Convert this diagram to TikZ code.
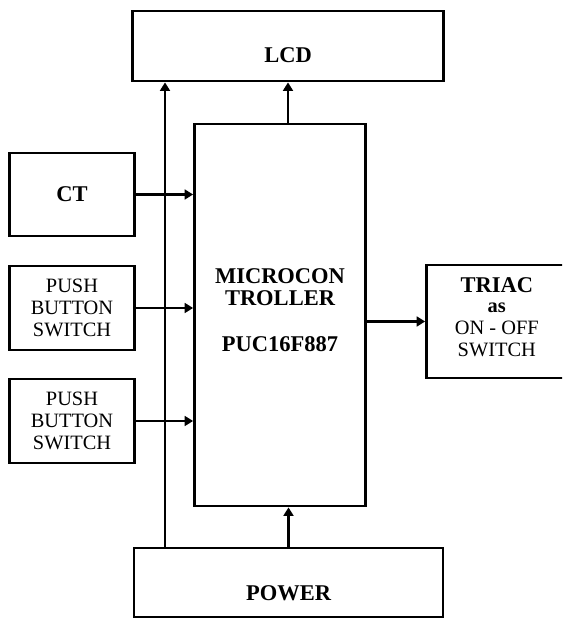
\documentclass[tikz,border=0pt]{standalone}
\usepackage{fontspec}
\setmainfont{Liberation Serif}
\usepackage{tikz}
\usetikzlibrary{arrows.meta,positioning}

\tikzset{
  blk/.style={draw,line width=2pt,inner sep=0pt,align=center},
  bigtxt/.style={font=\fontsize{16}{17}\selectfont\bfseries,align=center},
  smalltxt/.style={font=\fontsize{14.5}{15.4}\selectfont,align=center},
  wire/.style={line width=2pt,-{Triangle[length=6pt,width=7pt]}}
}

\begin{document}
\begin{tikzpicture}
\clip(0,0)rectangle(14.05,15.475);
% blocks
\node[blk,minimum width=7.775cm,minimum height=1.75cm](lcd)at(7.2,14.325){};
\node[bigtxt](lcdtxt)at([yshift=-0.24cm]lcd.center){LCD};
\node[blk,minimum width=4.275cm,minimum height=9.55cm](mcu)at(7.0,7.6){};
\node[bigtxt](mcutxt)at(7.0,7.72){MICROCON\\[-1pt]TROLLER\\[16pt]PUC16F887};
\node[blk,bigtxt,minimum width=3.125cm,minimum height=2.075cm](ct)at(1.8,10.6125){CT};
\node[blk,smalltxt,minimum width=3.125cm,minimum height=2.1cm](pbone)at(1.8,7.775){PUSH\\BUTTON\\SWITCH};
\node[blk,smalltxt,minimum width=3.125cm,minimum height=2.1cm](pbtwo)at(1.8,4.95){PUSH\\BUTTON\\SWITCH};
\node[blk,minimum width=3.5125cm,minimum height=2.825cm](triac)at(12.42,7.4375){};
\node[smalltxt](triactxt)at(12.42,7.55){{\fontsize{16}{17}\selectfont\bfseries TRIAC}\\[-1pt]{\bfseries as}\\ON - OFF\\SWITCH};
\node[blk,minimum width=7.725cm,minimum height=1.725cm](power)at(7.2125,0.9125){};
\node[bigtxt](powertxt)at([yshift=-0.26cm]power.center){POWER};
\coordinate(bus)at(4.125,0);
% connections
\draw[wire](ct.east)--(ct.east-|mcu.west);
\draw[wire](pbone.east)--(pbone.east-|mcu.west);
\draw[wire](pbtwo.east)--(pbtwo.east-|mcu.west);
\draw[wire](mcu.east|-triac.west)--(triac.west);
\draw[wire](lcd.south|-mcu.north)--(lcd.south);
\draw[wire](power.north)--(power.north|-mcu.south);
\draw[wire](power.north-|bus)--(lcd.south-|bus);
\end{tikzpicture}
\end{document}
